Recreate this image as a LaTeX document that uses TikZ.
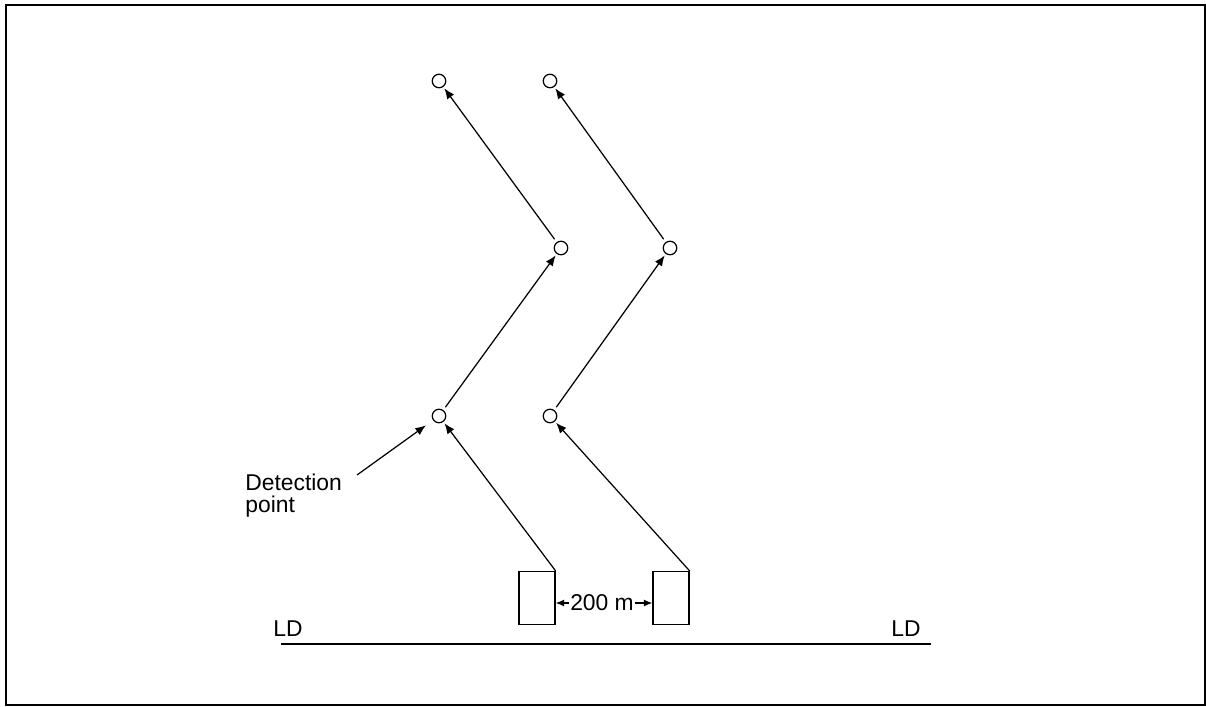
\documentclass[tikz,border=0pt]{standalone}
\usepackage{fontspec}
\setmainfont{Liberation Sans}
\usetikzlibrary{arrows.meta,positioning,calc}

\begin{document}
\begin{tikzpicture}[x=0.2mm, y=-0.2mm,
        >=Latex, font=\fontsize{13}{12.5}\selectfont,
        pt/.style={draw, circle, line width=0.7pt, minimum size=2.7mm, inner sep=0pt},
        veh/.style={draw, line width=0.7pt, minimum width=7.2mm, minimum height=10.6mm, inner sep=0pt},
        line/.style={-{Latex[length=2.1mm, width=1.7mm]}, line width=0.7pt},
        dim/.style={-{Latex[length=1.7mm, width=1.4mm]}, line width=0.7pt}]
        \useasboundingbox (0,0) rectangle (1206,707);
        \draw[line width=1.1pt] (6,5) rectangle (1205,705);
        % detection points
        \node[pt] (a1) at (439,416) {};
        \node[pt] (a2) at (561,248) {};
        \node[pt] (a3) at (439,81) {};
        \node[pt] (b1) at (550,416) {};
        \node[pt] (b2) at (670,248) {};
        \node[pt] (b3) at (550,81) {};
        % vehicles
        \node[veh] (va) at (537,598) {};
        \node[veh] (vb) at (671,598) {};
        % paths
        \draw[line, shorten >=1pt] (va.north east) -- (a1);
        \draw[line, shorten <=2pt, shorten >=1pt] (a1) -- (a2);
        \draw[line, shorten <=2pt, shorten >=1pt] (a2) -- (a3);
        \draw[line, shorten >=1pt] (vb.north east) -- (b1);
        \draw[line, shorten <=2pt, shorten >=1pt] (b1) -- (b2);
        \draw[line, shorten <=2pt, shorten >=1pt] (b2) -- (b3);
        % label
        \node[align=left, anchor=north west, inner sep=0pt] (lbl) at (245,474) {Detection\\point};
        \coordinate (lp) at (357,475);
        \draw[line, shorten >=5pt] (lp) -- (a1);
        % spacing
        \node[inner sep=0.5pt] (dist) at (602,603) {200 m};
        \draw[dim] (dist.west) -- (va.east |- dist);
        \draw[dim] (dist.east) -- (vb.west |- dist);
        % road
        \node (ldl) at (288,629) {LD};
        \node (ldr) at (906,629) {LD};
        \coordinate (rl) at (281,644);
        \coordinate (rr) at (931,644);
        \draw[line width=0.8pt] (rl) -- (rr);
    \end{tikzpicture}
\end{document}
